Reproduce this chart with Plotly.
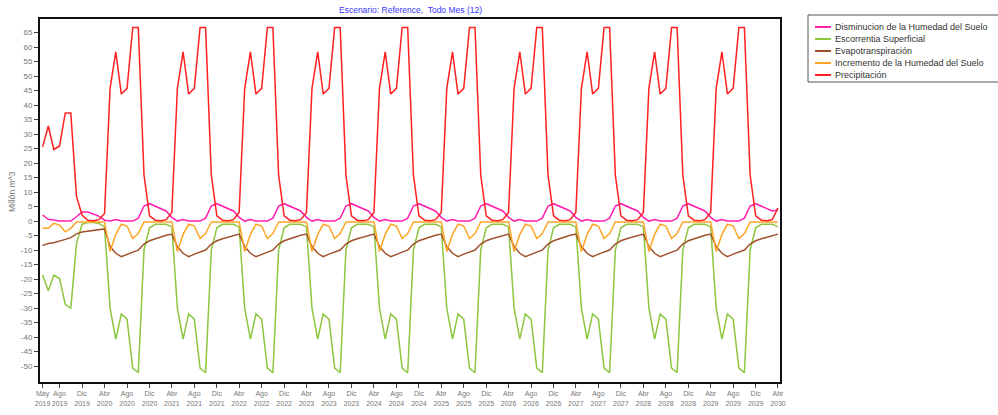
import plotly.graph_objects as go
import pandas as pd

# ---------------- data (monthly, May 2019 .. Apr 2030) ----------------
months = pd.date_range("2019-05-01", "2030-04-01", freq="MS")

series_names = [
    "Disminucion de la Humedad del Suelo",
    "Escorrentia Superficial",
    "Evapotranspiración",
    "Incremento de la Humedad del Suelo",
    "Precipitación",
]
series_colors = ["#FF1FAF", "#8DC63F", "#A0522D", "#FFA526", "#FF2020"]

disminucion = [
    2.1, 0.6, 0.4, 0.0, 0.0, 0.0, 1.5, 3.1, 3.1, 2.4, 1.7, 0.3,
    0.0, 0.5, 0.0, 0.0, 0.0, 1.0, 5.2, 6.0, 5.2, 4.3, 3.5, 1.3,
    0.0, 0.5, 0.0, 0.0, 0.0, 1.0, 5.2, 6.0, 5.2, 4.3, 3.5, 1.3,
    0.0, 0.5, 0.0, 0.0, 0.0, 1.0, 5.2, 6.0, 5.2, 4.3, 3.5, 1.3,
    0.0, 0.5, 0.0, 0.0, 0.0, 1.0, 5.2, 6.0, 5.2, 4.3, 3.5, 1.3,
    0.0, 0.5, 0.0, 0.0, 0.0, 1.0, 5.2, 6.0, 5.2, 4.3, 3.5, 1.3,
    0.0, 0.5, 0.0, 0.0, 0.0, 1.0, 5.2, 6.0, 5.2, 4.3, 3.5, 1.3,
    0.0, 0.5, 0.0, 0.0, 0.0, 1.0, 5.2, 6.0, 5.2, 4.3, 3.5, 1.3,
    0.0, 0.5, 0.0, 0.0, 0.0, 1.0, 5.2, 6.0, 5.2, 4.3, 3.5, 1.3,
    0.0, 0.5, 0.0, 0.0, 0.0, 1.0, 5.2, 6.0, 5.2, 4.3, 3.5, 1.3,
    0.0, 0.5, 0.0, 0.0, 0.0, 1.0, 5.2, 6.0, 5.2, 4.3, 3.5, 3.8,
]

escorrentia = [
    -18.6, -24.0, -18.6, -19.8, -28.7, -30.1, -7.7, -1.1, -0.5, -0.5, -0.8, -2.0,
    -30.0, -40.7, -32.0, -33.8, -50.7, -52.3, -10.0, -2.3, -1.1, -1.1, -1.1, -2.0,
    -30.0, -40.7, -32.0, -33.8, -50.7, -52.3, -10.0, -2.3, -1.1, -1.1, -1.1, -2.0,
    -30.0, -40.7, -32.0, -33.8, -50.7, -52.3, -10.0, -2.3, -1.1, -1.1, -1.1, -2.0,
    -30.0, -40.7, -32.0, -33.8, -50.7, -52.3, -10.0, -2.3, -1.1, -1.1, -1.1, -2.0,
    -30.0, -40.7, -32.0, -33.8, -50.7, -52.3, -10.0, -2.3, -1.1, -1.1, -1.1, -2.0,
    -30.0, -40.7, -32.0, -33.8, -50.7, -52.3, -10.0, -2.3, -1.1, -1.1, -1.1, -2.0,
    -30.0, -40.7, -32.0, -33.8, -50.7, -52.3, -10.0, -2.3, -1.1, -1.1, -1.1, -2.0,
    -30.0, -40.7, -32.0, -33.8, -50.7, -52.3, -10.0, -2.3, -1.1, -1.1, -1.1, -2.0,
    -30.0, -40.7, -32.0, -33.8, -50.7, -52.3, -10.0, -2.3, -1.1, -1.1, -1.1, -2.0,
    -30.0, -40.7, -32.0, -33.8, -50.7, -52.3, -10.0, -2.3, -1.1, -1.1, -1.1, -2.0,
]

evapotranspiracion = [
    -8.4, -7.7, -7.5, -6.8, -6.3, -5.7, -4.4, -3.8, -3.5, -3.1, -2.9, -2.7,
    -8.8, -11.1, -12.3, -11.4, -10.7, -10.0, -7.9, -6.8, -6.1, -5.5, -4.9, -4.5,
    -8.8, -11.1, -12.3, -11.4, -10.7, -10.0, -7.9, -6.8, -6.1, -5.5, -4.9, -4.5,
    -8.8, -11.1, -12.3, -11.4, -10.7, -10.0, -7.9, -6.8, -6.1, -5.5, -4.9, -4.5,
    -8.8, -11.1, -12.3, -11.4, -10.7, -10.0, -7.9, -6.8, -6.1, -5.5, -4.9, -4.5,
    -8.8, -11.1, -12.3, -11.4, -10.7, -10.0, -7.9, -6.8, -6.1, -5.5, -4.9, -4.5,
    -8.8, -11.1, -12.3, -11.4, -10.7, -10.0, -7.9, -6.8, -6.1, -5.5, -4.9, -4.5,
    -8.8, -11.1, -12.3, -11.4, -10.7, -10.0, -7.9, -6.8, -6.1, -5.5, -4.9, -4.5,
    -8.8, -11.1, -12.3, -11.4, -10.7, -10.0, -7.9, -6.8, -6.1, -5.5, -4.9, -4.5,
    -8.8, -11.1, -12.3, -11.4, -10.7, -10.0, -7.9, -6.8, -6.1, -5.5, -4.9, -4.5,
    -8.8, -11.1, -12.3, -11.4, -10.7, -10.0, -7.9, -6.8, -6.1, -5.5, -4.9, -4.5,
]

incremento = [
    -2.5, -2.5, -0.8, -1.4, -3.7, -2.5, -0.3, -0.3, -0.3, -0.3, -0.3, -0.3,
    -10.5, -4.6, -1.1, -1.7, -6.0, -4.3, -0.3, -0.3, -0.3, -0.3, -0.3, -0.3,
    -10.5, -4.6, -1.1, -1.7, -6.0, -4.3, -0.3, -0.3, -0.3, -0.3, -0.3, -0.3,
    -10.5, -4.6, -1.1, -1.7, -6.0, -4.3, -0.3, -0.3, -0.3, -0.3, -0.3, -0.3,
    -10.5, -4.6, -1.1, -1.7, -6.0, -4.3, -0.3, -0.3, -0.3, -0.3, -0.3, -0.3,
    -10.5, -4.6, -1.1, -1.7, -6.0, -4.3, -0.3, -0.3, -0.3, -0.3, -0.3, -0.3,
    -10.5, -4.6, -1.1, -1.7, -6.0, -4.3, -0.3, -0.3, -0.3, -0.3, -0.3, -0.3,
    -10.5, -4.6, -1.1, -1.7, -6.0, -4.3, -0.3, -0.3, -0.3, -0.3, -0.3, -0.3,
    -10.5, -4.6, -1.1, -1.7, -6.0, -4.3, -0.3, -0.3, -0.3, -0.3, -0.3, -0.3,
    -10.5, -4.6, -1.1, -1.7, -6.0, -4.3, -0.3, -0.3, -0.3, -0.3, -0.3, -0.3,
    -10.5, -4.6, -1.1, -1.7, -6.0, -4.3, -0.3, -0.3, -0.3, -0.3, -0.3, -0.3,
]

precipitacion = [
    25.6, 32.8, 24.7, 25.9, 37.3, 37.3, 8.4, 2.1, 0.3, 0.1, 0.5, 2.6,
    45.8, 58.4, 43.8, 45.8, 66.8, 66.8, 15.9, 1.8, 0.3, 0.1, 0.5, 3.0,
    45.8, 58.4, 43.8, 45.8, 66.8, 66.8, 15.9, 1.8, 0.3, 0.1, 0.5, 3.0,
    45.8, 58.4, 43.8, 45.8, 66.8, 66.8, 15.9, 1.8, 0.3, 0.1, 0.5, 3.0,
    45.8, 58.4, 43.8, 45.8, 66.8, 66.8, 15.9, 1.8, 0.3, 0.1, 0.5, 3.0,
    45.8, 58.4, 43.8, 45.8, 66.8, 66.8, 15.9, 1.8, 0.3, 0.1, 0.5, 3.0,
    45.8, 58.4, 43.8, 45.8, 66.8, 66.8, 15.9, 1.8, 0.3, 0.1, 0.5, 3.0,
    45.8, 58.4, 43.8, 45.8, 66.8, 66.8, 15.9, 1.8, 0.3, 0.1, 0.5, 3.0,
    45.8, 58.4, 43.8, 45.8, 66.8, 66.8, 15.9, 1.8, 0.3, 0.1, 0.5, 3.0,
    45.8, 58.4, 43.8, 45.8, 66.8, 66.8, 15.9, 1.8, 0.3, 0.1, 0.5, 3.0,
    45.8, 58.4, 43.8, 45.8, 66.8, 66.8, 15.9, 1.8, 0.3, 0.1, 0.5, 4.5,
]

series_values = [disminucion, escorrentia, evapotranspiracion, incremento, precipitacion]

# x tick labels
x_tick_dates = ["2019-05-01", "2019-08-01", "2019-12-01"]
x_tick_text = ["May<br>2019", "Ago<br>2019", "Dic<br>2019"]
for yr in range(2020, 2030):
    x_tick_dates += [f"{yr}-04-01", f"{yr}-08-01", f"{yr}-12-01"]
    x_tick_text += [f"Abr<br>{yr}", f"Ago<br>{yr}", f"Dic<br>{yr}"]
x_tick_dates.append("2030-04-01")
x_tick_text.append("Abr<br>2030")

y_tick_vals = list(range(-50, 70, 5))
y_tick_text = [str(v) for v in y_tick_vals]

title_text = "Escenario: Reference,  Todo Mes (12)"
y_title = "Millón m^3"

# ---------------- layout geometry ----------------
W, H = 998, 415
L, R, T, B = 40, 780, 19, 382


def px_x(p):
    return (p - L) / (R - L)


def px_y(p):
    return (B - p) / (B - T)


FONT = "Liberation Sans, Arial, sans-serif"

fig = go.Figure()
for name, color, vals in zip(series_names, series_colors, series_values):
    fig.add_trace(go.Scatter(
        x=months, y=vals, mode="lines", name=name,
        line=dict(color=color, width=1.5), showlegend=False,
    ))

fig.update_layout(
    width=W, height=H,
    margin=dict(l=L, r=W - R, t=T, b=H - B),
    paper_bgcolor="white", plot_bgcolor="white",
    font=dict(family=FONT, size=8, color="#666666"),
    xaxis=dict(
        range=["2019-04-17", "2030-04-12"],
        tickvals=x_tick_dates, ticktext=x_tick_text, tickangle=0,
        ticks="outside", ticklen=4, tickcolor="#444444", tickwidth=1,
        tickfont=dict(size=7, color="#777777"),
        showgrid=False, zeroline=False, automargin=False,
        showline=True, linecolor="#111111", linewidth=2, mirror=True,
    ),
    yaxis=dict(
        range=[-55.5, 69.7],
        tickvals=y_tick_vals, ticktext=y_tick_text,
        ticks="outside", ticklen=4, tickcolor="#444444", tickwidth=1,
        tickfont=dict(size=8, color="#777777"),
        showgrid=False, zeroline=False, automargin=False,
        showline=True, linecolor="#111111", linewidth=2, mirror=True,
    ),
)

annotations = [
    dict(text=title_text, xref="paper", yref="paper", x=px_x(410), y=px_y(10),
         showarrow=False, font=dict(family=FONT, size=8.5, color="#3838FF"),
         xanchor="center", yanchor="middle"),
    dict(text=y_title, xref="paper", yref="paper", x=px_x(12), y=px_y(192),
         showarrow=False, textangle=-90, font=dict(family=FONT, size=8.5, color="#777777"),
         xanchor="center", yanchor="middle"),
]
shapes = [
    dict(type="rect", xref="paper", yref="paper",
         x0=px_x(808), x1=px_x(1005), y0=px_y(15), y1=px_y(82),
         line=dict(color="#555555", width=1), fillcolor="white"),
]
for k, (name, color) in enumerate(zip(series_names, series_colors)):
    yy = 27 + 12 * k
    shapes.append(dict(type="line", xref="paper", yref="paper",
                       x0=px_x(815), x1=px_x(831), y0=px_y(yy), y1=px_y(yy),
                       line=dict(color=color, width=2)))
    annotations.append(dict(text=name, xref="paper", yref="paper",
                            x=px_x(833), y=px_y(yy), showarrow=False,
                            xanchor="left", yanchor="middle",
                            font=dict(family=FONT, size=9, color="#333333")))

fig.update_layout(annotations=annotations, shapes=shapes)
fig.write_html(
    "out.html",
    config={"displayModeBar": False},
    post_script="document.body.style.margin='0';document.body.style.overflow='hidden';",
)
